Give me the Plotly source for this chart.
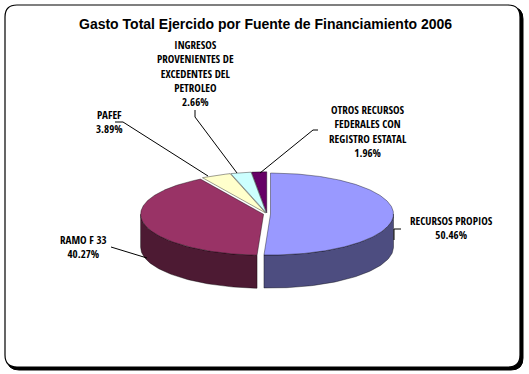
import numpy as np
import plotly.graph_objects as go

# ---- data ----
categories = ["RECURSOS PROPIOS", "RAMO F 33", "PAFEF",
              "INGRESOS PROVENIENTES DE EXCEDENTES DEL PETROLEO",
              "OTROS RECURSOS FEDERALES CON REGISTRO ESTATAL"]
label_names = ["RECURSOS PROPIOS", "RAMO F 33", "PAFEF",
               "INGRESOS<br>PROVENIENTES DE<br>EXCEDENTES DEL<br>PETROLEO",
               "OTROS RECURSOS<br>FEDERALES CON<br>REGISTRO ESTATAL"]
values = [50.46, 40.27, 3.89, 2.66, 1.96]
title = "Gasto Total Ejercido por Fuente de Financiamiento 2006"

# ---- style ----
top_colors = ["#9999FF", "#993366", "#FFFFCC", "#CCFFFF", "#660066"]
side_colors = ["#4D4D80", "#4D1A33", "#80806A", "#6A8080", "#330033"]
W, H = 529, 374
cx, cy, a, b, depth = 267, 214, 123, 41, 33
explode = 3.5

vals = np.array(values, dtype=float)
fr = vals / vals.sum()
ends = np.cumsum(fr) * 360.0
starts = ends - fr * 360.0

def pt(t_deg, ox, oy, dz=0.0):
    t = np.radians(t_deg)
    return cx + ox + a * np.sin(t), cy + oy - b * np.cos(t) + dz

fig = go.Figure()
offsets = []
for s, e in zip(starts, ends):
    m = np.radians((s + e) / 2)
    offsets.append((explode * np.sin(m), -explode * np.cos(m) * b / a))

# side faces (front half only)
for i, (s, e) in enumerate(zip(starts, ends)):
    lo, hi = max(s, 90), min(e, 270)
    if hi <= lo:
        continue
    ox, oy = offsets[i]
    ts = np.linspace(lo, hi, 80)
    xt, yt = pt(ts, ox, oy)
    xb, yb = pt(ts[::-1], ox, oy, depth)
    xs = np.concatenate([xt, xb, xt[:1]])
    ys = np.concatenate([yt, yb, yt[:1]])
    fig.add_trace(go.Scatter(x=xs, y=ys, mode="lines", fill="toself",
                             fillcolor=side_colors[i],
                             line=dict(color="rgba(0,0,0,0.55)", width=0.7),
                             hoverinfo="skip", showlegend=False))

# top faces
for i, (s, e) in enumerate(zip(starts, ends)):
    ox, oy = offsets[i]
    ts = np.linspace(s, e, max(int((e - s) * 2), 8))
    xa, ya = pt(ts, ox, oy)
    xs = np.concatenate([[cx + ox], xa, [cx + ox]])
    ys = np.concatenate([[cy + oy], ya, [cy + oy]])
    fig.add_trace(go.Scatter(x=xs, y=ys, mode="lines", fill="toself",
                             fillcolor=top_colors[i],
                             line=dict(color="rgba(0,0,0,0.55)", width=0.7),
                             name=categories[i],
                             hovertemplate=f"{categories[i]}: {values[i]:.2f}%<extra></extra>",
                             showlegend=False))

# labels (block centres)
label_pos = [(451, 227.5), (83, 246.5), (109, 121), (195, 73), (368, 131)]
lab_font = dict(family="Open Sans Condensed, Roboto Condensed, Liberation Sans",
                size=11, color="black")
for i, (lx, ly) in enumerate(label_pos):
    fig.add_annotation(x=lx, y=ly, xref="x", yref="y",
                       text=f"<b>{label_names[i]}<br>{values[i]:.2f}%</b>",
                       showarrow=False, font=lab_font, align="center",
                       yanchor="middle")

# leader lines
leaders = [
    [(401, 229), (394, 229), (394, 240)],
    [(111, 247), (147, 258)],
    [(115, 122), (123, 122), (208, 176)],
    [(195, 110), (195, 117), (237, 173)],
    [(318, 130), (313, 130), (260, 173)],
]
for pts in leaders:
    path = "M " + " L ".join(f"{x},{y}" for x, y in pts)
    fig.add_shape(type="path", path=path, xref="x", yref="y",
                  line=dict(color="black", width=1), layer="above")

def rrect(x0, y0, x1, y1, r):
    return (f"M {x0+r},{y0} L {x1-r},{y0} Q {x1},{y0} {x1},{y0+r} "
            f"L {x1},{y1-r} Q {x1},{y1} {x1-r},{y1} L {x0+r},{y1} "
            f"Q {x0},{y1} {x0},{y1-r} L {x0},{y0+r} Q {x0},{y0} {x0+r},{y0} Z")

fig.add_shape(type="path", path=rrect(7, 7, 523, 370, 12), xref="x", yref="y",
              fillcolor="black", line=dict(color="black", width=1), layer="below")
fig.add_shape(type="path", path=rrect(5, 5, 520, 367, 12), xref="x", yref="y",
              fillcolor="white", line=dict(color="black", width=1.2), layer="below")

fig.add_annotation(x=265, y=24, xref="x", yref="y", text=f"<b>{title}</b>",
                   showarrow=False, yanchor="middle",
                   font=dict(family="Liberation Sans, Arial", size=14, color="black"))

fig.update_layout(width=W, height=H, margin=dict(l=0, r=0, t=0, b=0),
                  paper_bgcolor="white", plot_bgcolor="white",
                  xaxis=dict(range=[0, W], visible=False, fixedrange=True),
                  yaxis=dict(range=[H, 0], visible=False, fixedrange=True),
                  showlegend=False)

fig.write_html("out.html", config={"displayModeBar": False},
               post_script="document.body.style.margin='0';")
